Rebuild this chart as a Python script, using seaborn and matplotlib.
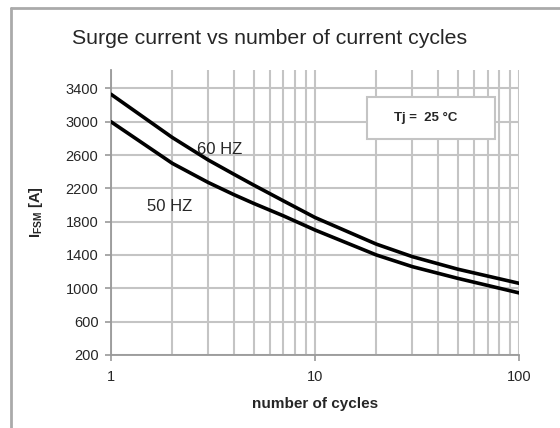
import numpy as np
import pandas as pd
import seaborn as sns
import matplotlib.pyplot as plt
from matplotlib.patches import Rectangle
from matplotlib.lines import Line2D
from matplotlib.ticker import FixedLocator, NullFormatter

# Data
cycles = [1, 2, 3, 4, 5, 7, 10, 20, 30, 50, 100]
i_60hz = [3330, 2810, 2540, 2370, 2240, 2050, 1850, 1530, 1380, 1230, 1060]
i_50hz = [3000, 2500, 2270, 2125, 2020, 1870, 1700, 1400, 1260, 1120, 945]
y_ticks = [200, 600, 1000, 1400, 1800, 2200, 2600, 3000, 3400]
x_ticks = [1, 10, 100]
x_tick_labels = ['1', '10', '100']

df = pd.DataFrame({'cycles': cycles * 2,
                   'current': i_60hz + i_50hz,
                   'freq': ['60 HZ'] * len(cycles) + ['50 HZ'] * len(cycles)})

sns.set_style('white')
plt.rcParams['font.family'] = ['Liberation Sans', 'DejaVu Sans']

fig = plt.figure(figsize=(5.6, 4.28), dpi=100)
ax = fig.add_axes([0.198, 0.1706, 0.729, 0.6658])

grid_c = '#c4c4c4'
sns.lineplot(data=df, x='cycles', y='current', hue='freq', units='freq',
             estimator=None, palette={'60 HZ': 'black', '50 HZ': 'black'},
             linewidth=2.6, legend=False, ax=ax, zorder=3)

ax.set_xscale('log')
ax.set_xlim(1, 100)
ax.set_ylim(200, 3620)

ax.xaxis.set_major_locator(FixedLocator(x_ticks))
ax.set_xticklabels(x_tick_labels)
minor = [m * d for d in (1, 10) for m in range(2, 10)]
ax.xaxis.set_minor_locator(FixedLocator(minor))
ax.xaxis.set_minor_formatter(NullFormatter())
ax.set_yticks(y_ticks)

ax.grid(True, which='both', axis='x', color=grid_c, linewidth=1.5)
ax.grid(True, which='major', axis='y', color=grid_c, linewidth=1.5)
ax.set_axisbelow(True)

for s in ['top', 'right']:
    ax.spines[s].set_visible(False)
for s in ['left', 'bottom']:
    ax.spines[s].set_color('#999999')
    ax.spines[s].set_linewidth(1.3)

ax.tick_params(axis='both', which='major', length=4, width=1.2, color='#999999',
               labelsize=10.5, direction='out', bottom=True, left=True)
ax.tick_params(axis='x', which='major', pad=7)
ax.tick_params(axis='y', which='major', pad=5)
ax.tick_params(axis='x', which='minor', length=0)

ax.set_xlabel('number of cycles', fontsize=11, fontweight='bold', labelpad=9)
ax.set_ylabel(r'$\mathregular{I_{FSM}}$ [A]', fontsize=10.5, fontweight='bold',
              labelpad=15)

# curve labels
ax.text(2.64, 2670, '60 HZ', fontsize=12, va='center', ha='left', zorder=4)
ax.text(1.5, 1983, '50 HZ', fontsize=12, va='center', ha='left', zorder=4)

# temperature box
ax.add_patch(Rectangle((0.627, 0.758), 0.314, 0.147, transform=ax.transAxes,
                       facecolor='white', edgecolor=grid_c, linewidth=1.5,
                       zorder=5))
ax.text(0.77, 0.832, 'Tj =  25 °C', transform=ax.transAxes, fontsize=9.5,
        fontweight='bold', ha='center', va='center', zorder=6)

# title
fig.text(270 / 560, 1 - 39 / 428, 'Surge current vs number of current cycles',
         fontsize=15.3, ha='center', va='center')

# chart frame (left and top edges)
fig.add_artist(Line2D([11 / 560, 11 / 560], [0, 1 - 8 / 428],
                      transform=fig.transFigure, color='#aaaaaa', linewidth=2))
fig.add_artist(Line2D([11 / 560, 1], [1 - 8 / 428, 1 - 8 / 428],
                      transform=fig.transFigure, color='#aaaaaa', linewidth=2))

fig.savefig('out.png', dpi=100)
